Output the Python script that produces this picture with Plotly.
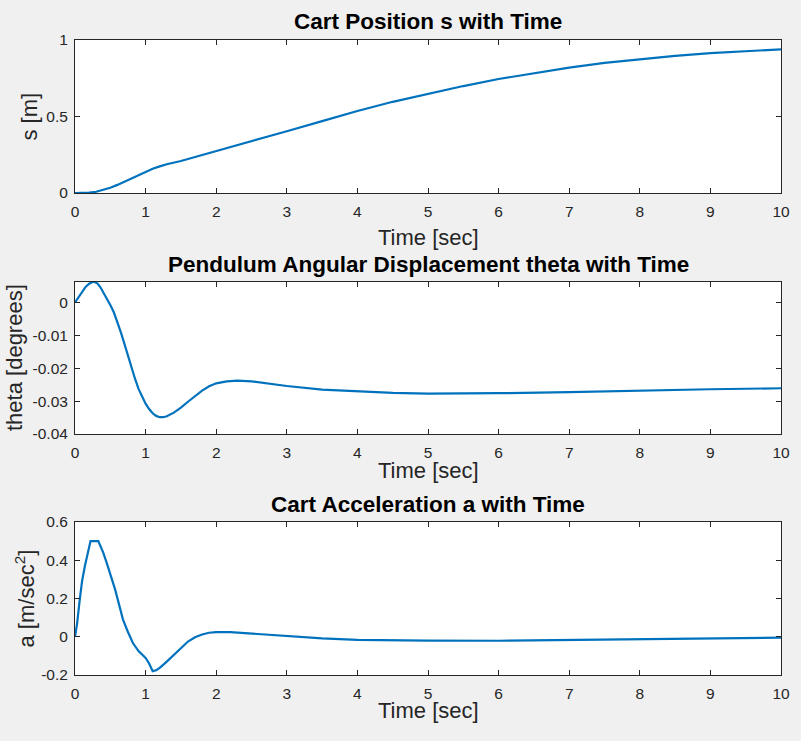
import plotly.graph_objects as go

# ---------------- data ----------------
t_s = [0, 0.1, 0.2, 0.3, 0.4, 0.5, 0.6, 0.7, 0.8, 0.9, 1.0, 1.1, 1.2, 1.3, 1.5, 1.75,
       2.0, 2.5, 3.0, 3.5, 4.0, 4.5, 5.0, 5.5, 6.0, 6.5, 7.0, 7.5, 8.0, 8.5, 9.0, 9.5, 10]
s_vals = [0, 0.0, 0.002, 0.008, 0.019, 0.034, 0.053, 0.075, 0.097, 0.118, 0.14, 0.158,
          0.174, 0.188, 0.209, 0.241, 0.273, 0.338, 0.404, 0.47, 0.536, 0.596, 0.648,
          0.699, 0.745, 0.785, 0.82, 0.85, 0.875, 0.896, 0.914, 0.928, 0.939]

t_th = [0, 0.05, 0.1, 0.15, 0.2, 0.25, 0.28, 0.32, 0.36, 0.4, 0.45, 0.5, 0.55, 0.6, 0.65,
        0.7, 0.75, 0.8, 0.85, 0.9, 0.95, 1.0, 1.05, 1.1, 1.15, 1.2, 1.25, 1.3, 1.4, 1.5,
        1.6, 1.7, 1.8, 1.9, 2.0, 2.15, 2.3, 2.5, 2.75, 3.0, 3.5, 4.0, 4.5, 5.0, 5.5, 6.0,
        7.0, 8.0, 9.0, 10.0]
theta_vals = [0, 0.0015, 0.0033, 0.0047, 0.0057, 0.0062, 0.0062, 0.0057, 0.0046, 0.0031,
              0.0012, -0.0008, -0.0030, -0.0058, -0.0091, -0.0126, -0.0163, -0.0199,
              -0.0232, -0.0263, -0.0288, -0.0308, -0.0324, -0.0337, -0.0345, -0.0349,
              -0.0349, -0.0346, -0.0335, -0.0320, -0.0302, -0.0284, -0.0268, -0.0255,
              -0.0246, -0.0240, -0.0238, -0.0240, -0.0247, -0.0254, -0.0265, -0.0271,
              -0.0275, -0.0277, -0.0277, -0.0276, -0.0273, -0.0268, -0.0264, -0.0261]

t_a = [0, 0.03, 0.066, 0.1, 0.14, 0.18, 0.22, 0.33, 0.4, 0.45, 0.5, 0.57, 0.63, 0.68, 0.75,
       0.82, 0.9, 0.95, 1.0, 1.05, 1.1, 1.15, 1.2, 1.3, 1.4, 1.5, 1.6, 1.7, 1.8, 1.9, 2.0,
       2.2, 2.5, 3.0, 3.5, 4.0, 4.5, 5.0, 6.0, 7.0, 8.0, 9.0, 10.0]
a_vals = [0, 0.07, 0.19, 0.29, 0.37, 0.44, 0.50, 0.50, 0.44, 0.385, 0.33, 0.245, 0.16,
          0.089, 0.025, -0.033, -0.075, -0.095, -0.111, -0.14, -0.18, -0.175, -0.163,
          -0.13, -0.095, -0.055, -0.025, -0.003, 0.012, 0.021, 0.024, 0.024, 0.016, 0.002,
          -0.008, -0.016, -0.019, -0.020, -0.021, -0.018, -0.014, -0.011, -0.005]

x_ticks = list(range(0, 11))
s_ticks = [0, 0.5, 1]
s_ticktext = ["0", "0.5", "1"]
th_ticks = [0, -0.01, -0.02, -0.03, -0.04]
th_ticktext = ["0", "-0.01", "-0.02", "-0.03", "-0.04"]
a_ticks = [0.6, 0.4, 0.2, 0, -0.2]
a_ticktext = ["0.6", "0.4", "0.2", "0", "-0.2"]

titles = ["Cart Position s with Time",
          "Pendulum Angular Displacement theta with Time",
          "Cart Acceleration a with Time"]
ylabels = ["s [m]", "theta [degrees]", "a [m/sec<sup>2</sup>]"]
xlabel = "Time [sec]"

# ---------------- layout helpers ----------------
W, H = 801, 741
FONT = "Liberation Sans, Arial, Helvetica, sans-serif"
AX = "#262626"
LINE = "#0072BD"

def px(x):
    return x / W

def py(y):
    return 1 - y / H

x0, x1 = 75, 781
rows = [(40, 193), (282, 434), (522, 675)]
title_y = [22, 265, 504]
xlabel_y = [237, 470, 710]
ylabel_x = [29, 14, 24]

fig = go.Figure()
series = [(t_s, s_vals), (t_th, theta_vals), (t_a, a_vals)]
for i, (tx, ty) in enumerate(series):
    fig.add_trace(go.Scatter(x=tx, y=ty, mode="lines",
                             line=dict(color=LINE, width=2.2),
                             xaxis="x" if i == 0 else f"x{i+1}",
                             yaxis="y" if i == 0 else f"y{i+1}",
                             showlegend=False, hoverinfo="skip"))

yranges = [[0, 1], [-0.04, 0.0062], [-0.2, 0.6]]
ytv = [s_ticks, th_ticks, a_ticks]
ytt = [s_ticktext, th_ticktext, a_ticktext]

layout = dict(width=W, height=H, paper_bgcolor="#f0f0f0", plot_bgcolor="white",
              margin=dict(l=0, r=0, t=0, b=0, pad=0, autoexpand=False),
              font=dict(family=FONT, color=AX), showlegend=False)
annotations = []
for i, (top, bot) in enumerate(rows):
    k = "" if i == 0 else str(i + 1)
    common = dict(showline=True, linecolor=AX, linewidth=1, mirror="ticks",
                  ticks="inside", ticklen=5, tickcolor=AX, tickwidth=1,
                  showgrid=False, zeroline=False, automargin=False,
                  tickfont=dict(family=FONT, size=15.5, color=AX))
    layout["xaxis" + k] = dict(domain=[px(x0), px(x1)], range=[0, 10],
                               tickvals=x_ticks, ticktext=[str(v) for v in x_ticks],
                               anchor="y" + k, ticklabelstandoff=4, **common)
    layout["yaxis" + k] = dict(domain=[py(bot), py(top)], range=yranges[i],
                               tickvals=ytv[i], ticktext=ytt[i],
                               anchor="x" + k, ticklabelstandoff=3, **common)
    annotations.append(dict(text=f"<b>{titles[i]}</b>", x=px((x0 + x1) / 2), y=py(title_y[i]),
                            xref="paper", yref="paper", showarrow=False,
                            xanchor="center", yanchor="middle",
                            font=dict(family=FONT, size=22.5, color="black")))
    annotations.append(dict(text=xlabel, x=px((x0 + x1) / 2), y=py(xlabel_y[i]),
                            xref="paper", yref="paper", showarrow=False,
                            xanchor="center", yanchor="middle",
                            font=dict(family=FONT, size=22, color=AX)))
    annotations.append(dict(text=ylabels[i], x=px(ylabel_x[i]), y=py((top + bot) / 2),
                            xref="paper", yref="paper", showarrow=False, textangle=-90,
                            xanchor="center", yanchor="middle",
                            font=dict(family=FONT, size=22, color=AX)))
layout["annotations"] = annotations
fig.update_layout(**layout)
fig.write_html("out.html", config={"displayModeBar": False},
               post_script="document.body.style.margin='0';document.body.style.overflow='hidden';")
